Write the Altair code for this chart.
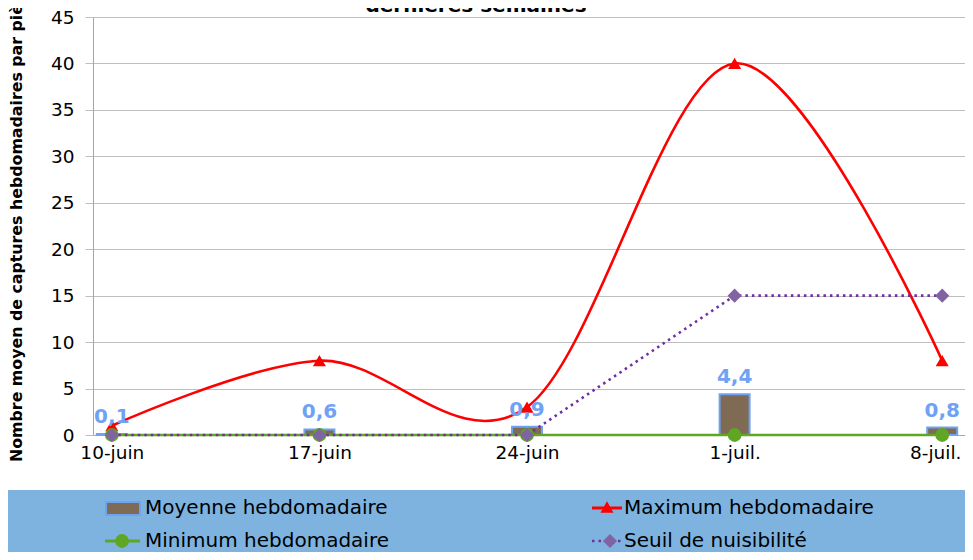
import json
import altair as alt
import pandas as pd

# ---- data ----
weeks = ["10-juin", "17-juin", "24-juin", "1-juil.", "8-juil."]
moyenne = [0.1, 0.6, 0.9, 4.4, 0.8]
maximum = [1, 8, 3, 40, 8]
minimum = [0, 0, 0, 0, 0]
seuil = [0, 0, 0, 15, 15]
moy_labels = ["0,1", "0,6", "0,9", "4,4", "0,8"]
y_ticks = [0, 5, 10, 15, 20, 25, 30, 35, 40, 45]

df = pd.DataFrame({
    "idx": list(range(len(weeks))),
    "week": weeks,
    "moyenne": moyenne,
    "maximum": maximum,
    "minimum": minimum,
    "seuil": seuil,
    "lab": moy_labels,
})

FONT = "DejaVu Sans"
RED = "#FF0000"
GREEN = "#5FA624"
PURPLE_LINE = "#7030A0"
PURPLE = "#8064A2"
BROWN = "#7F6A53"
BAR_STROKE = "#6FA2F2"
LABEL_BLUE = "#6FA2F5"
LEGEND_BG = "#7EB3E0"

W, H = 872, 418
xscale = alt.Scale(domain=[-14 / 210, (W - 14) / 210], nice=False, zero=False)
yscale = alt.Scale(domain=[0, 45], nice=False)

label_expr = json.dumps(weeks) + "[datum.value]"

x_enc = alt.X(
    "idx:Q", scale=xscale,
    axis=alt.Axis(values=list(range(len(weeks))), labelExpr=label_expr, title=None,
                  grid=False, ticks=False, domainColor="#A6A6A6", labelFont=FONT,
                  labelFontSize=18.5, labelColor="#000000", labelPadding=8,
                  labelOffset={"condition": {"test": "datum.value == 4", "value": -7}, "value": 0},
                  labelFlush=False, labelOverlap=False),
)
y_axis = alt.Axis(values=y_ticks, title=None, grid=True, gridColor="#BFBFBF",
                  domainColor="#A6A6A6", tickColor="#BFBFBF", tickSize=8,
                  labelFont=FONT, labelFontSize=18.5, labelColor="#000000",
                  labelPadding=11)

base = alt.Chart(df)

bars = base.mark_bar(size=30, color=BROWN, stroke=BAR_STROKE, strokeWidth=2).encode(
    x=x_enc,
    y=alt.Y("moyenne:Q", scale=yscale, axis=y_axis),
)

max_line = base.mark_line(color=RED, strokeWidth=2.6, interpolate="cardinal", tension=0).encode(
    x=alt.X("idx:Q", scale=xscale), y=alt.Y("maximum:Q", scale=yscale))
max_pts = base.mark_point(shape="triangle-up", filled=True, color=RED, size=170, opacity=1).encode(
    x=alt.X("idx:Q", scale=xscale), y=alt.Y("maximum:Q", scale=yscale))

min_line = base.mark_line(color=GREEN, strokeWidth=2.6).encode(
    x=alt.X("idx:Q", scale=xscale), y=alt.Y("minimum:Q", scale=yscale))
min_pts = base.mark_point(shape="circle", filled=True, color=GREEN, size=190, opacity=1).encode(
    x=alt.X("idx:Q", scale=xscale), y=alt.Y("minimum:Q", scale=yscale))

seuil_line = base.mark_line(color=PURPLE_LINE, strokeWidth=2.6, strokeDash=[2.5, 4]).encode(
    x=alt.X("idx:Q", scale=xscale), y=alt.Y("seuil:Q", scale=yscale))
seuil_pts = base.mark_point(shape="diamond", filled=True, color=PURPLE, size=200, opacity=1).encode(
    x=alt.X("idx:Q", scale=xscale), y=alt.Y("seuil:Q", scale=yscale))

labels = base.mark_text(font=FONT, fontSize=20, fontWeight="bold", color=LABEL_BLUE,
                        baseline="alphabetic", dy=-11).encode(
    x=alt.X("idx:Q", scale=xscale), y=alt.Y("moyenne:Q", scale=yscale), text="lab:N")

# ---- titles (partly cut off as in the reference) ----
one = pd.DataFrame({"t": ["dernières semaines"]})
title = alt.Chart(one).mark_text(font=FONT, fontSize=20, fontWeight="bold", color="#000000",
                                 align="center", baseline="alphabetic").encode(
    x=alt.value(383), y=alt.value(-5), text="t:N")

ytitle_df = pd.DataFrame({"t": ["Nombre moyen de captures hebdomadaires par piège"]})
ytitle = alt.Chart(ytitle_df).mark_text(font=FONT, fontSize=15.8, fontWeight="bold", color="#000000",
                                        align="left", baseline="middle", angle=270).encode(
    x=alt.value(-76), y=alt.value(445), text="t:N")

# ---- manual legend ----
legend_bg = alt.Chart(one).mark_rect(color=LEGEND_BG).encode(
    x=alt.value(-90), x2=alt.value(W + 5), y=alt.value(473), y2=alt.value(545))

leg_text_df = pd.DataFrame({
    "t": ["Moyenne hebdomadaire", "Maximum hebdomadaire", "Minimum hebdomadaire", "Seuil de nuisibilité"],
    "lx": [52, 531, 52, 531],
    "ly": [491, 491, 524, 524],
})
leg_text = alt.Chart(leg_text_df).mark_text(font=FONT, fontSize=20, color="#000000",
                                            align="left", baseline="middle").encode(
    x=alt.X("lx:Q", scale=None), y=alt.Y("ly:Q", scale=None), text="t:N")

leg_bar = alt.Chart(one).mark_rect(color=BROWN, stroke=BAR_STROKE, strokeWidth=2).encode(
    x=alt.value(13), x2=alt.value(47), y=alt.value(485), y2=alt.value(498))

leg_max_line = alt.Chart(one).mark_rule(color=RED, strokeWidth=3).encode(
    x=alt.value(499), x2=alt.value(529), y=alt.value(491))
leg_max_pt = alt.Chart(one).mark_point(shape="triangle-up", filled=True, color=RED, size=170, opacity=1).encode(
    x=alt.value(514), y=alt.value(490))

leg_min_line = alt.Chart(one).mark_rule(color=GREEN, strokeWidth=3).encode(
    x=alt.value(12), x2=alt.value(47), y=alt.value(524))
leg_min_pt = alt.Chart(one).mark_point(shape="circle", filled=True, color=GREEN, size=190, opacity=1).encode(
    x=alt.value(29), y=alt.value(524))

leg_seuil_line = alt.Chart(one).mark_rule(color=PURPLE_LINE, strokeWidth=2.6, strokeDash=[2.5, 4]).encode(
    x=alt.value(499), x2=alt.value(529), y=alt.value(524))
leg_seuil_pt = alt.Chart(one).mark_point(shape="diamond", filled=True, color=PURPLE, size=200, opacity=1).encode(
    x=alt.value(517), y=alt.value(524))

chart = alt.layer(
    legend_bg, bars, max_line, max_pts, min_line, min_pts, seuil_line, seuil_pts, labels,
    title, ytitle,
    leg_text, leg_bar, leg_max_line, leg_max_pt, leg_min_line, leg_min_pt, leg_seuil_line, leg_seuil_pt,
).properties(
    width=W, height=H,
    autosize=alt.AutoSizeParams(type="none"),
    padding={"left": 85, "top": 9, "right": 0, "bottom": 117},
    background="#FFFFFF",
).configure_view(stroke=None)

chart.save("out.html", embed_options={"renderer": "svg", "actions": False})
